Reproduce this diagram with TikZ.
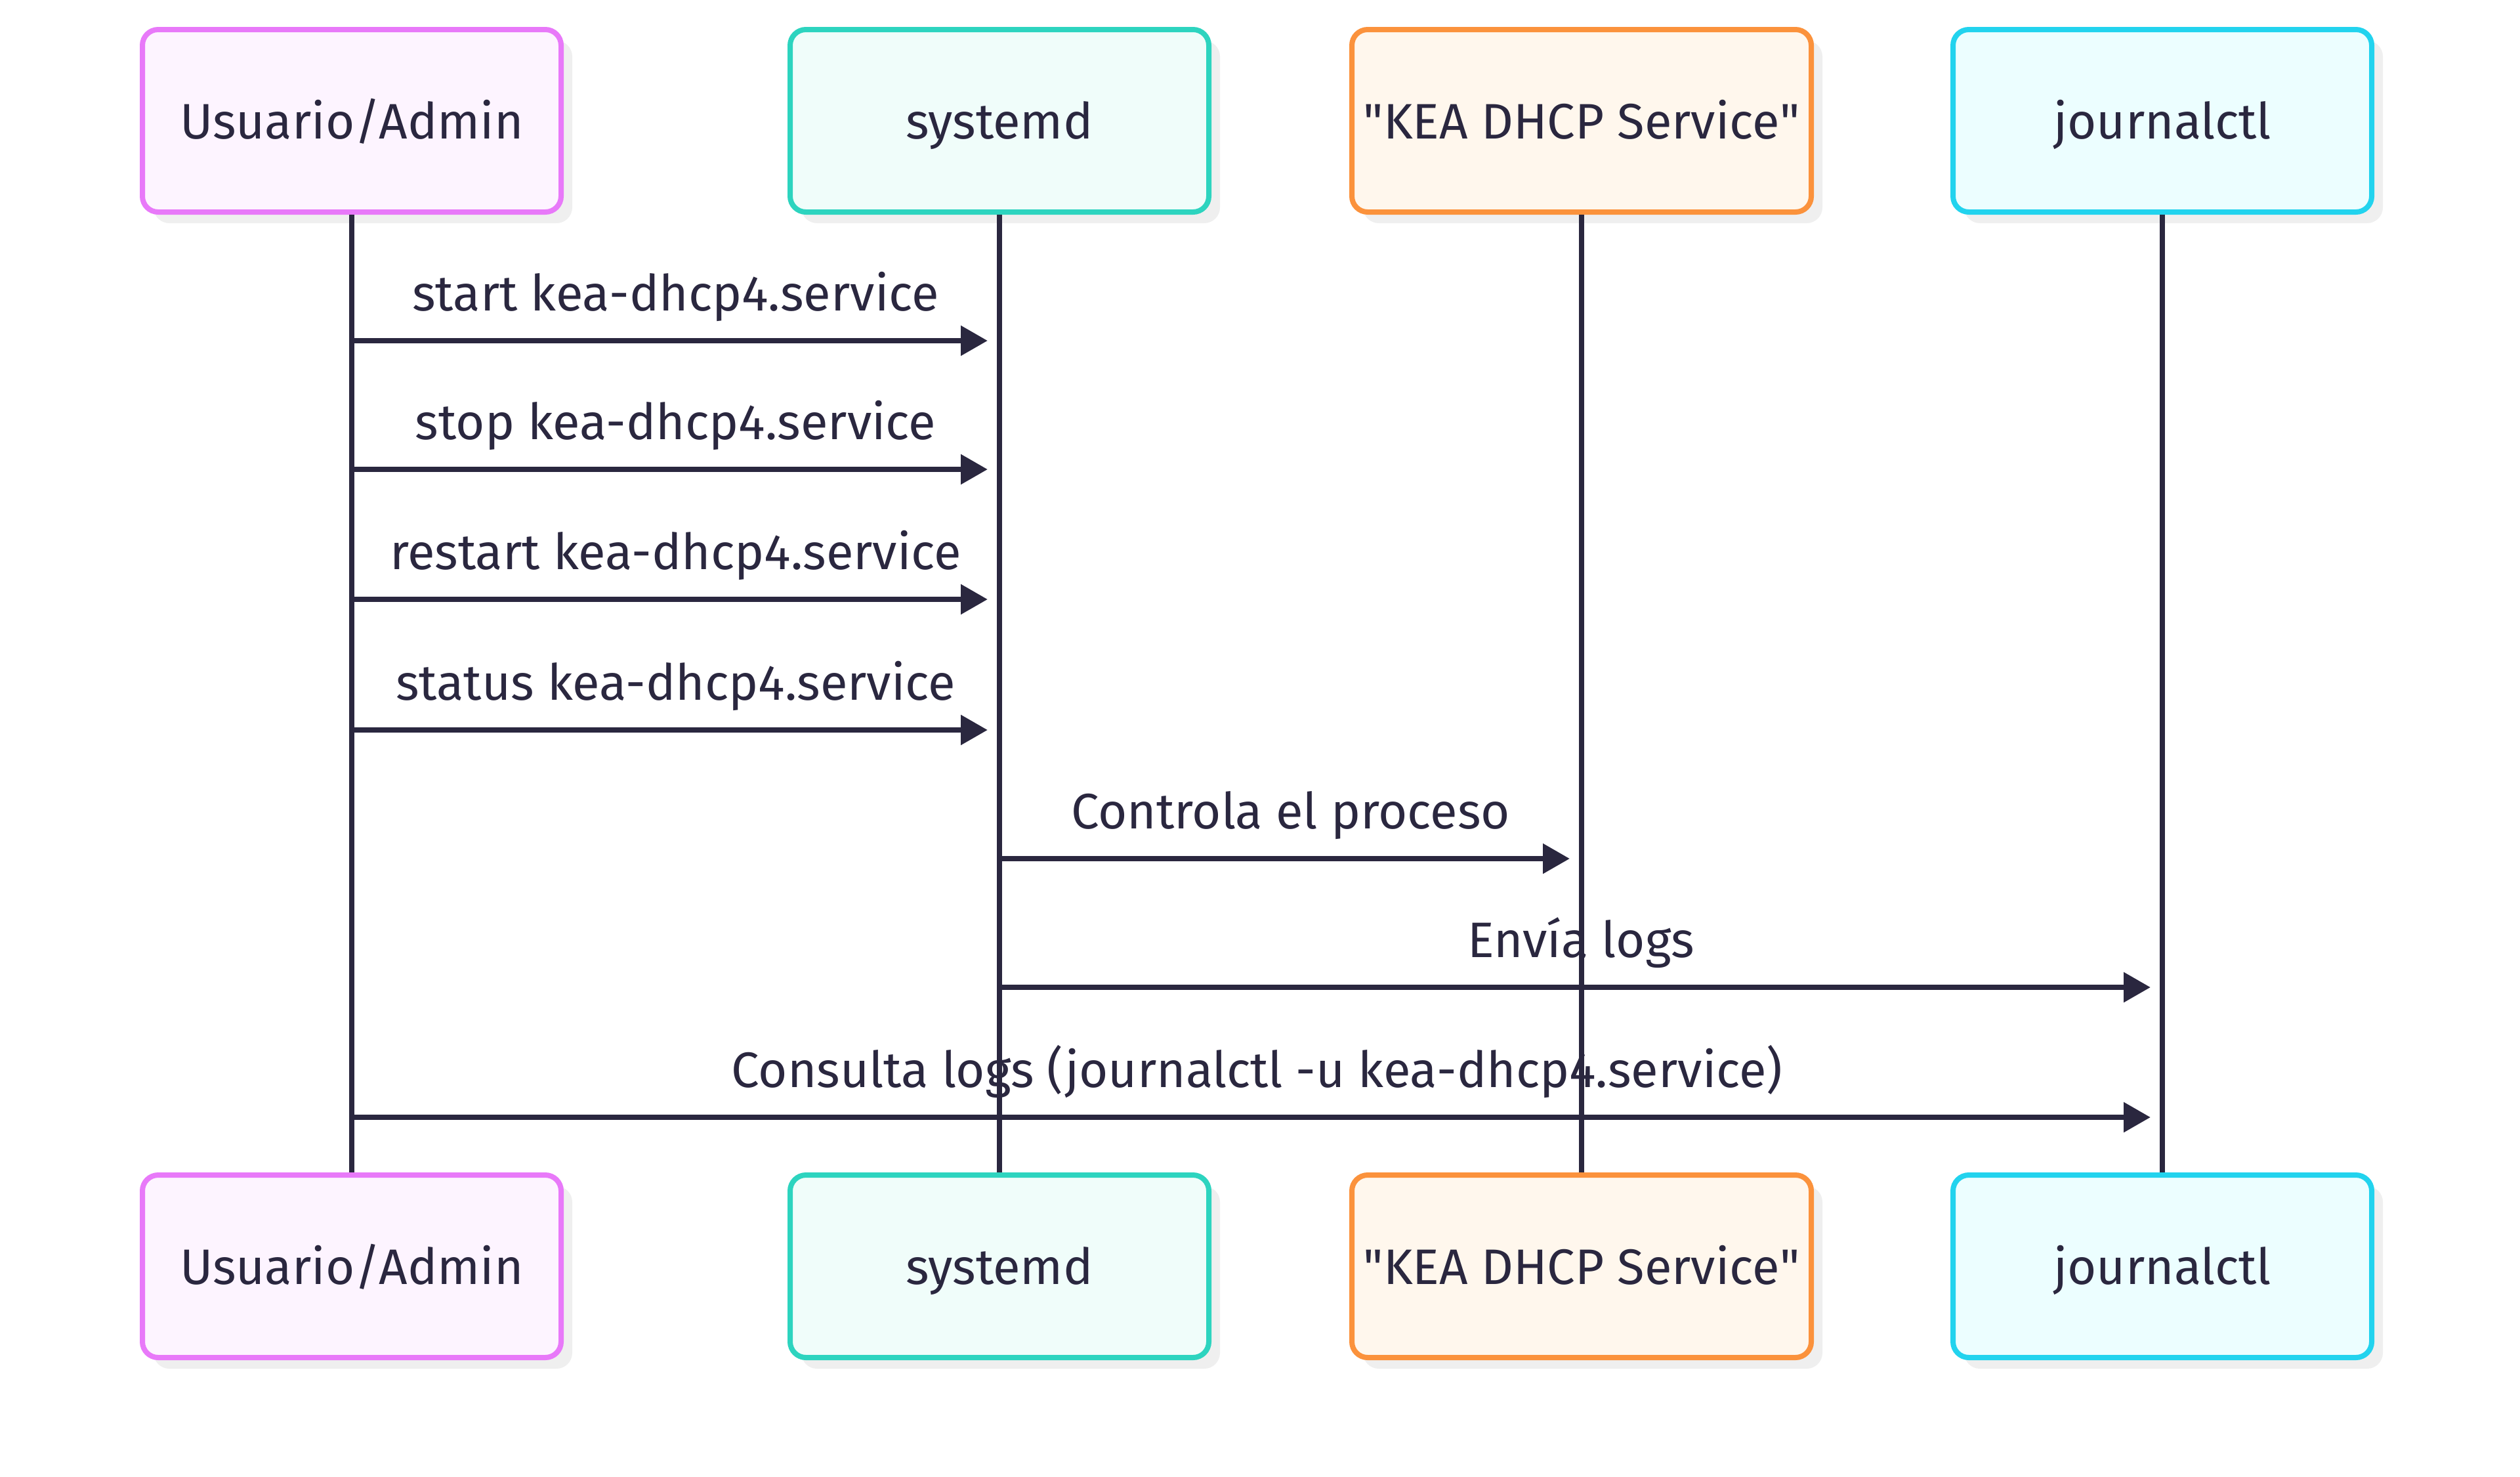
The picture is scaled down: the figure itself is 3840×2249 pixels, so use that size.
\documentclass[tikz,border=0pt]{standalone}
\usepackage{fontspec}
\setmainfont{Fira Sans}
\usetikzlibrary{arrows.meta,shadows}

\definecolor{ink}{HTML}{2A273F}
\definecolor{shade}{HTML}{EFEFEF}
\definecolor{usrline}{HTML}{E879F9}
\definecolor{usrfill}{HTML}{FDF4FF}
\definecolor{sysline}{HTML}{2DD4BF}
\definecolor{sysfill}{HTML}{F0FDFA}
\definecolor{kealine}{HTML}{FB923C}
\definecolor{keafill}{HTML}{FFF7ED}
\definecolor{jrnline}{HTML}{22D3EE}
\definecolor{jrnfill}{HTML}{ECFEFF}

\tikzset{
  actor/.style={draw, rounded corners=6pt, line width=2pt, minimum height=69.5pt,
    minimum width=159.5pt, text=ink, font=\fontsize{19}{23}\selectfont,
    text height=16pt, text depth=2.5pt,
    drop shadow={fill=shade, opacity=1, shadow xshift=4.25pt, shadow yshift=-4.25pt}},
  life/.style={ink, line width=2.1pt},
  msg/.style={ink, line width=2.2pt, -{Triangle[length=10.25pt,width=11pt]}, shorten >=4.5pt},
  lbl/.style={text=ink, font=\fontsize{19}{23}\selectfont, anchor=base, yshift=11.5pt}
}

\begin{document}
\begin{tikzpicture}[x=0.25pt, y=-0.25pt]
    \useasboundingbox (0,0) rectangle (3840,2249);

    % actors, top row
    \node[actor, draw=usrline, fill=usrfill] (usrTop) at (536,184) {Usuario/Admin};
    \node[actor, draw=sysline, fill=sysfill] (sysTop) at (1523,184) {systemd};
    \node[actor, draw=kealine, fill=keafill, minimum width=175pt] (keaTop) at (2410,184) {\textquotedbl KEA DHCP Service\textquotedbl};
    \node[actor, draw=jrnline, fill=jrnfill] (jrnTop) at (3295,184) {journalctl};

    % actors, bottom row
    \node[actor, draw=usrline, fill=usrfill] (usrBot) at (536,1929) {Usuario/Admin};
    \node[actor, draw=sysline, fill=sysfill] (sysBot) at (1523,1929) {systemd};
    \node[actor, draw=kealine, fill=keafill, minimum width=175pt] (keaBot) at (2410,1929) {\textquotedbl KEA DHCP Service\textquotedbl};
    \node[actor, draw=jrnline, fill=jrnfill] (jrnBot) at (3295,1929) {journalctl};

    % lifelines
    \draw[life] (usrTop.south) -- (usrBot.north);
    \draw[life] (sysTop.south) -- (sysBot.north);
    \draw[life] (keaTop.south) -- (keaBot.north);
    \draw[life] (jrnTop.south) -- (jrnBot.north);

    % messages
    \draw[msg] (usrTop |- 0,519) -- (sysTop |- 0,519) node[lbl, midway] {start kea-dhcp4.service};
    \draw[msg] (usrTop |- 0,715) -- (sysTop |- 0,715) node[lbl, midway] {stop kea-dhcp4.service};
    \draw[msg] (usrTop |- 0,913) -- (sysTop |- 0,913) node[lbl, midway] {restart kea-dhcp4.service};
    \draw[msg] (usrTop |- 0,1112) -- (sysTop |- 0,1112) node[lbl, midway] {status kea-dhcp4.service};
    \draw[msg] (sysTop |- 0,1308) -- (keaTop |- 0,1308) node[lbl, midway] {Controla el proceso};
    \draw[msg] (sysTop |- 0,1504) -- (jrnTop |- 0,1504) node[lbl, midway] {Envía logs};
    \draw[msg] (usrTop |- 0,1702) -- (jrnTop |- 0,1702) node[lbl, midway] {Consulta logs (journalctl -u kea-dhcp4.service)};
  \end{tikzpicture}
\end{document}
